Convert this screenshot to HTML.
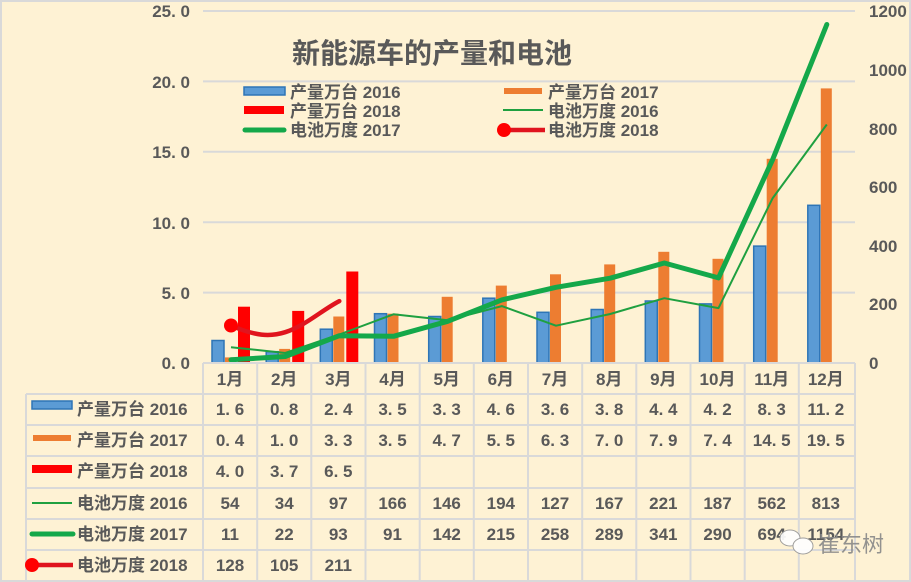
<!DOCTYPE html>
<html><head><meta charset="utf-8"><style>
html,body{margin:0;padding:0;background:#FEF2D4;}
svg{display:block;font-family:"Liberation Sans","Noto Sans CJK SC",sans-serif;}
.ax{font-size:17px;fill:#595959;font-weight:bold;}
.tb{font-size:17px;fill:#595959;font-weight:bold;}
</style></head><body>
<svg width="911" height="582" viewBox="0 0 911 582" xmlns="http://www.w3.org/2000/svg">
<rect x="0" y="0" width="911" height="582" fill="#FEF2D4"/>
<rect x="1" y="1" width="909" height="580" fill="none" stroke="#D9D9D9" stroke-width="2"/>
<g stroke="#D9D9D9" stroke-width="2">
<line x1="203" y1="11" x2="855" y2="11"/>
<line x1="203" y1="81.4" x2="855" y2="81.4"/>
<line x1="203" y1="151.8" x2="855" y2="151.8"/>
<line x1="203" y1="222.2" x2="855" y2="222.2"/>
<line x1="203" y1="292.6" x2="855" y2="292.6"/>
</g>
<g class="ax" text-anchor="end">
<text x="190" y="17">25. 0</text>
<text x="190" y="88">20. 0</text>
<text x="190" y="158">15. 0</text>
<text x="190" y="229">10. 0</text>
<text x="190" y="299">5. 0</text>
<text x="190" y="369">0. 0</text>
</g>
<g class="ax" text-anchor="start">
<text x="869" y="17">1200</text>
<text x="869" y="76">1000</text>
<text x="869" y="135">800</text>
<text x="869" y="193">600</text>
<text x="869" y="252">400</text>
<text x="869" y="310">200</text>
<text x="869" y="369">0</text>
</g>
<text x="432" y="63" text-anchor="middle" style="font-size:28px;font-weight:bold;fill:#595959">新能源车的产量和电池</text>
<g fill="#5B9BD5" stroke="#2E75B6" stroke-width="1.5">
<rect x="212" y="340.5" width="12" height="22.5"/>
<rect x="266.2" y="351.7" width="12" height="11.3"/>
<rect x="320.3" y="329.2" width="12" height="33.8"/>
<rect x="374.5" y="313.7" width="12" height="49.3"/>
<rect x="428.7" y="316.5" width="12" height="46.5"/>
<rect x="482.8" y="298.2" width="12" height="64.8"/>
<rect x="537" y="312.3" width="12" height="50.7"/>
<rect x="591.2" y="309.5" width="12" height="53.5"/>
<rect x="645.3" y="301" width="12" height="62"/>
<rect x="699.5" y="303.9" width="12" height="59.1"/>
<rect x="753.7" y="246.1" width="12" height="116.9"/>
<rect x="807.8" y="205.3" width="12" height="157.7"/>
</g>
<g fill="#ED7D31">
<rect x="225" y="357.4" width="11" height="5.6"/>
<rect x="279.2" y="348.9" width="11" height="14.1"/>
<rect x="333.3" y="316.5" width="11" height="46.5"/>
<rect x="387.5" y="313.7" width="11" height="49.3"/>
<rect x="441.7" y="296.8" width="11" height="66.2"/>
<rect x="495.8" y="285.6" width="11" height="77.4"/>
<rect x="550" y="274.3" width="11" height="88.7"/>
<rect x="604.2" y="264.4" width="11" height="98.6"/>
<rect x="658.3" y="251.8" width="11" height="111.2"/>
<rect x="712.5" y="258.8" width="11" height="104.2"/>
<rect x="766.7" y="158.8" width="11" height="204.2"/>
<rect x="820.8" y="88.4" width="11" height="274.6"/>
</g>
<g fill="#FF0000">
<rect x="238" y="306.7" width="12" height="56.3"/>
<rect x="292.2" y="310.9" width="12" height="52.1"/>
<rect x="346.3" y="271.5" width="12" height="91.5"/>
</g>
<polyline fill="none" stroke="#1FA040" stroke-width="2" stroke-linejoin="round" points="231,347.2 285.2,353 339.3,334.5 393.5,314.3 447.7,320.2 501.8,306.1 556,325.7 610.2,314 664.3,298.2 718.5,308.1 772.7,198.1 826.8,124.5"/>
<polyline fill="none" stroke="#14A84A" stroke-width="5" stroke-linejoin="round" stroke-linecap="round" points="231,359.8 285.2,356.5 339.3,335.7 393.5,336.3 447.7,321.3 501.8,299.9 556,287.3 610.2,278.2 664.3,263 718.5,277.9 772.7,159.4 826.8,24.5"/>
<path d="M231,325.5 C255,336 270,337 285.2,332.2 C305,326 322,310 339.3,301.1" fill="none" stroke="#E0141E" stroke-width="4.5" stroke-linecap="round"/>
<circle cx="231" cy="325.5" r="7" fill="#FF0000"/>
<g style="font-size:17px;font-weight:bold;fill:#595959">
<rect x="244" y="87" width="41" height="8" fill="#5B9BD5" stroke="#2E75B6" stroke-width="1.5"/>
<text x="290" y="98">产量万台 2016</text>
<rect x="244" y="106" width="40" height="8" fill="#FF0000"/>
<text x="290" y="117">产量万台 2018</text>
<line x1="245" y1="130" x2="284" y2="130" stroke="#14A84A" stroke-width="5" stroke-linecap="round"/>
<text x="290" y="136">电池万度 2017</text>
<rect x="504" y="88" width="38" height="6" fill="#ED7D31"/>
<text x="548" y="98">产量万台 2017</text>
<line x1="503" y1="110" x2="543" y2="110" stroke="#1FA040" stroke-width="2"/>
<text x="548" y="117">电池万度 2016</text>
<line x1="504" y1="130" x2="545" y2="130" stroke="#E0141E" stroke-width="4.5"/>
<circle cx="504" cy="130" r="7" fill="#FF0000"/>
<text x="548" y="136">电池万度 2018</text>
</g>
<g stroke="#D9D9D9" stroke-width="2">
<line x1="203" y1="363" x2="855" y2="363"/>
<line x1="26" y1="394" x2="855" y2="394"/>
<line x1="26" y1="425" x2="855" y2="425"/>
<line x1="26" y1="456" x2="855" y2="456"/>
<line x1="26" y1="488" x2="855" y2="488"/>
<line x1="26" y1="519" x2="855" y2="519"/>
<line x1="26" y1="550" x2="855" y2="550"/>
<line x1="26" y1="581" x2="855" y2="581"/>
<line x1="26" y1="394" x2="26" y2="582"/>
<line x1="203" y1="363" x2="203" y2="582"/>
<line x1="257.2" y1="363" x2="257.2" y2="582"/>
<line x1="311.3" y1="363" x2="311.3" y2="582"/>
<line x1="365.5" y1="363" x2="365.5" y2="582"/>
<line x1="419.7" y1="363" x2="419.7" y2="582"/>
<line x1="473.8" y1="363" x2="473.8" y2="582"/>
<line x1="528" y1="363" x2="528" y2="582"/>
<line x1="582.2" y1="363" x2="582.2" y2="582"/>
<line x1="636.3" y1="363" x2="636.3" y2="582"/>
<line x1="690.5" y1="363" x2="690.5" y2="582"/>
<line x1="744.7" y1="363" x2="744.7" y2="582"/>
<line x1="798.8" y1="363" x2="798.8" y2="582"/>
<line x1="855" y1="363" x2="855" y2="582"/>
</g>
<rect x="32" y="401" width="40" height="8" fill="#5B9BD5" stroke="#2E75B6" stroke-width="1.5"/>
<rect x="33" y="435" width="38" height="6" fill="#ED7D31"/>
<rect x="32" y="465" width="40" height="8" fill="#FF0000"/>
<line x1="32" y1="503" x2="72" y2="503" stroke="#1FA040" stroke-width="2"/>
<line x1="32" y1="534" x2="73" y2="534" stroke="#14A84A" stroke-width="5" stroke-linecap="round"/>
<line x1="32" y1="565" x2="73" y2="565" stroke="#E0141E" stroke-width="4.5"/>
<circle cx="32" cy="565" r="7" fill="#FF0000"/>
<g class="tb">
<text x="77" y="415">产量万台 2016</text>
<text x="77" y="446">产量万台 2017</text>
<text x="77" y="477">产量万台 2018</text>
<text x="77" y="509">电池万度 2016</text>
<text x="77" y="540">电池万度 2017</text>
<text x="77" y="571">电池万度 2018</text>
</g>
<g class="tb" text-anchor="middle">
<text x="230" y="385">1月</text><text x="284.2" y="385">2月</text><text x="338.3" y="385">3月</text><text x="392.5" y="385">4月</text><text x="446.7" y="385">5月</text><text x="500.8" y="385">6月</text><text x="555" y="385">7月</text><text x="609.2" y="385">8月</text><text x="663.3" y="385">9月</text><text x="717.5" y="385">10月</text><text x="771.7" y="385">11月</text><text x="825.8" y="385">12月</text>
<text x="230" y="415">1. 6</text><text x="284.2" y="415">0. 8</text><text x="338.3" y="415">2. 4</text><text x="392.5" y="415">3. 5</text><text x="446.7" y="415">3. 3</text><text x="500.8" y="415">4. 6</text><text x="555" y="415">3. 6</text><text x="609.2" y="415">3. 8</text><text x="663.3" y="415">4. 4</text><text x="717.5" y="415">4. 2</text><text x="771.7" y="415">8. 3</text><text x="825.8" y="415">11. 2</text>
<text x="230" y="446">0. 4</text><text x="284.2" y="446">1. 0</text><text x="338.3" y="446">3. 3</text><text x="392.5" y="446">3. 5</text><text x="446.7" y="446">4. 7</text><text x="500.8" y="446">5. 5</text><text x="555" y="446">6. 3</text><text x="609.2" y="446">7. 0</text><text x="663.3" y="446">7. 9</text><text x="717.5" y="446">7. 4</text><text x="771.7" y="446">14. 5</text><text x="825.8" y="446">19. 5</text>
<text x="230" y="477">4. 0</text><text x="284.2" y="477">3. 7</text><text x="338.3" y="477">6. 5</text>
<text x="230" y="509">54</text><text x="284.2" y="509">34</text><text x="338.3" y="509">97</text><text x="392.5" y="509">166</text><text x="446.7" y="509">146</text><text x="500.8" y="509">194</text><text x="555" y="509">127</text><text x="609.2" y="509">167</text><text x="663.3" y="509">221</text><text x="717.5" y="509">187</text><text x="771.7" y="509">562</text><text x="825.8" y="509">813</text>
<text x="230" y="540">11</text><text x="284.2" y="540">22</text><text x="338.3" y="540">93</text><text x="392.5" y="540">91</text><text x="446.7" y="540">142</text><text x="500.8" y="540">215</text><text x="555" y="540">258</text><text x="609.2" y="540">289</text><text x="663.3" y="540">341</text><text x="717.5" y="540">290</text><text x="771.7" y="540">694</text><text x="825.8" y="540">1154</text>
<text x="230" y="571">128</text><text x="284.2" y="571">105</text><text x="338.3" y="571">211</text>
</g>
<g opacity="0.92">
<ellipse cx="790" cy="538" rx="10" ry="8" fill="#fff" stroke="#999" stroke-width="1"/>
<ellipse cx="803" cy="546" rx="10" ry="8" fill="#fff" stroke="#999" stroke-width="1"/>
<text x="818" y="552" style="font-size:22px;fill:#8a8a8a">崔东树</text>
</g>
</svg>
</body></html>
